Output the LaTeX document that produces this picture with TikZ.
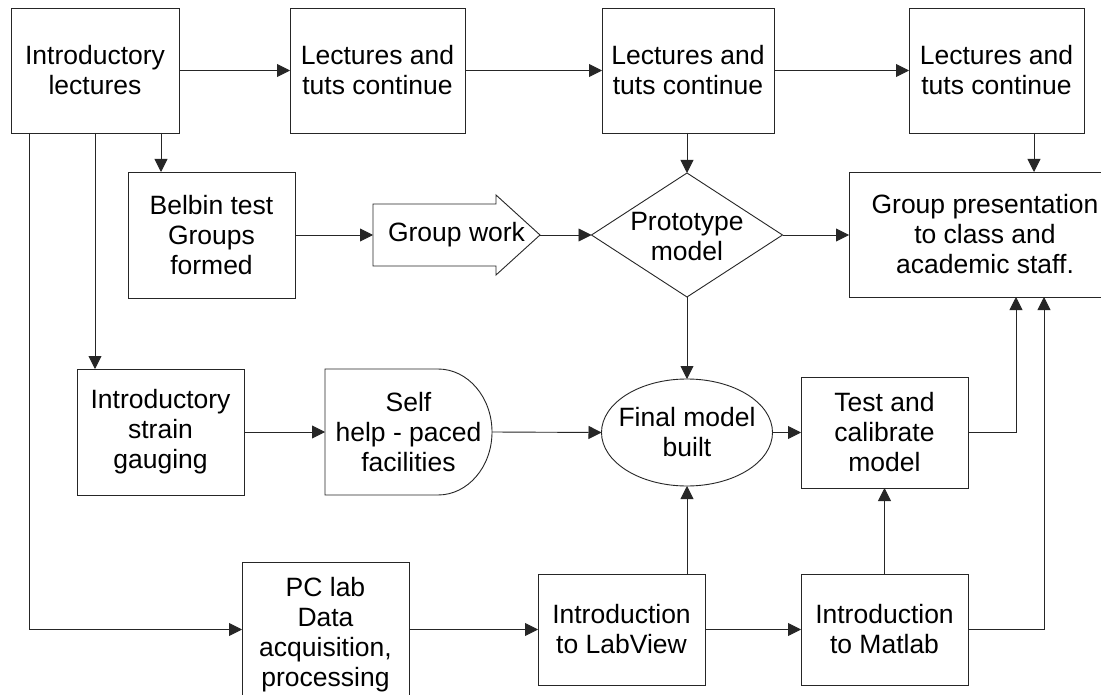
\documentclass[tikz,border=0pt]{standalone}
\usepackage{fontspec}
\setmainfont{Liberation Sans}
\usetikzlibrary{arrows.meta,shapes.geometric,calc}
\begin{document}
\begin{tikzpicture}[x=1pt,y=-1pt,
  every node/.style={font=\fontsize{26.5}{30}\selectfont, align=center, inner sep=0pt, outer sep=0pt},
  ln/.style={line width=0.9pt, draw=black!85},
  box/.style={rectangle, ln},
  plain/.style={rectangle},
  arr/.style={ln, -{Triangle[length=13pt,width=13pt]}}]
\fill[white] (0,0) rectangle (1101,695);
\useasboundingbox (0,0) rectangle (1101,695);
\clip (0,0) rectangle (1101,695);
% nodes
\node[box, minimum width=168pt, minimum height=125pt] (intro) at (95,70.5) {Introductory\\lectures};
\node[box, minimum width=175pt, minimum height=125pt] (lec1) at (377.5,70.5) {Lectures and\\tuts continue};
\node[box, minimum width=172pt, minimum height=125pt] (lec2) at (688,70.5) {Lectures and\\tuts continue};
\node[box, minimum width=175pt, minimum height=125pt] (lec3) at (996.5,70.5) {Lectures and\\tuts continue};
\node[box, minimum width=167pt, minimum height=126pt] (belbin) at (211.5,235) {Belbin test\\Groups\\formed};
\node[plain, minimum width=167pt, minimum height=80pt] (gw) at (456.5,235) {Group work};
\draw[ln] (gw.west) ++(0,-31) -- ++(123,0) -- ++(0,-9) -- (gw.east) -- ++(-44,40) -- ++(0,-9) -- ++(-123,0) -- cycle;
\node[plain, minimum width=191pt, minimum height=124pt] (proto) at (687,237) {Prototype\\model};
\draw[ln] ([yshift=2pt]proto.north) -- ([yshift=2pt]proto.east) -- ([yshift=2pt]proto.south) -- ([yshift=2pt]proto.west) -- cycle;
\node[box, minimum width=272pt, minimum height=125pt] (gp) at (985,234.5) {Group presentation\\to class and\\academic staff.};
\node[box, minimum width=167pt, minimum height=126pt] (strain) at (160.5,432) {Introductory\\strain\\gauging};
\node[plain, minimum width=167pt, minimum height=126pt] (self) at (408.5,432) {Self\\help - paced\\facilities};
\draw[ln] (self.north west) -- ++(113,0) arc[start angle=90, end angle=-90, x radius=54pt, y radius=63pt] -- (self.south west) -- cycle;
\node[plain, minimum width=171pt, minimum height=107pt] (final) at (687,432.5) {Final model\\built};
\draw[ln] (final.center) ellipse [x radius=85.5pt, y radius=53.5pt];
\node[box, minimum width=167pt, minimum height=111pt] (test) at (884.5,432.5) {Test and\\calibrate\\model};
\node[box, minimum width=167pt, minimum height=145pt] (pclab) at (325.5,634.5) {PC lab\\Data\\acquisition,\\processing};
\node[box, minimum width=167pt, minimum height=111pt] (labview) at (621.5,629.5) {Introduction\\to LabView};
\node[box, minimum width=167pt, minimum height=111pt] (matlab) at (884.5,629.5) {Introduction\\to Matlab};
% connectors
\draw[arr] (intro.east) -- (lec1.west);
\draw[arr] (lec1.east) -- (lec2.west);
\draw[arr] (lec2.east) -- (lec3.west);
\draw[arr] ([xshift=66pt]intro.south) -- ([xshift=66pt]intro.south |- belbin.north);
\draw[arr] (intro.south) -- (intro.south |- strain.north);
\draw[arr] ([xshift=-66pt]intro.south) |- (pclab.west |- labview.west);
\draw[arr] (belbin.east) -- (gw.west);
\draw[arr] (gw.east) -- ([yshift=2pt]proto.west);
\draw[arr] ([yshift=2pt]proto.east) -- ([yshift=2pt]proto.east -| gp.west);
\draw[arr] (lec2.south -| proto.north) -- ([yshift=2pt]proto.north);
\draw[arr] ([yshift=2pt]proto.south) -- (final.north);
\draw[arr] ([xshift=49pt]gp.north |- lec3.south) -- ([xshift=49pt]gp.north);
\draw[arr] (strain.east) -- (self.west);
\draw[arr] (self.east) -- (final.west);
\draw[arr] (final.east) -- (final.east -| test.west);
\draw[arr] (pclab.east |- labview.west) -- (labview.west);
\draw[arr] (labview.east) -- (matlab.west);
\draw[arr] (labview.north -| final.south) -- (final.south);
\draw[arr] (matlab.north) -- (test.south);
\draw[arr] (test.east) -| ([xshift=31pt]gp.south);
\draw[arr] (matlab.east) -| ([xshift=59pt]gp.south);
\end{tikzpicture}
\end{document}
